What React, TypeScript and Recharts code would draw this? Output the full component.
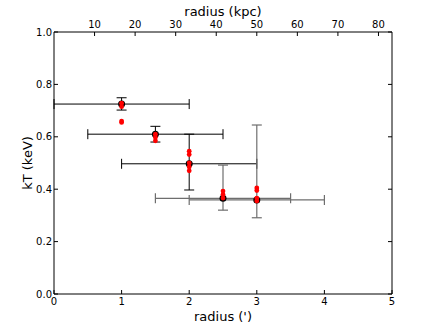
import { ScatterChart, Scatter, XAxis, YAxis, ErrorBar, Label } from 'recharts';

// annular shells: radius (arcmin), kT (keV)
const shellRadius = [1, 1.5, 2, 2.5, 3];
const shellHalfWidth = [1, 1, 1, 1, 1];
const shellKT = [0.725, 0.61, 0.497, 0.365, 0.359];
const shellKTLow = [0.023, 0.03, 0.1, 0.045, 0.068];
const shellKTHigh = [0.024, 0.03, 0.113, 0.127, 0.286];

// individual fits (red)
const fitRadius = [1, 1, 1, 1, 1.5, 1.5, 1.5, 2, 2, 2, 2, 2, 2.5, 2.5, 2.5, 3, 3, 3, 3];
const fitKT = [
  0.728, 0.715, 0.66, 0.655, 0.61, 0.598, 0.585, 0.545, 0.532, 0.5, 0.485, 0.47, 0.393,
  0.38, 0.366, 0.405, 0.395, 0.366, 0.355,
];

const arcminTicks = [0, 1, 2, 3, 4, 5];
const kpcTicks = [10, 20, 30, 40, 50, 60, 70, 80];
const ktTicks = [0, 0.2, 0.4, 0.6, 0.8, 1.0];
const kpcPerArcmin = 16.667;
const kpcMax = 5 * kpcPerArcmin;

const shells = shellRadius.map((r, i) => ({
  x: r,
  y: shellKT[i],
  xErr: shellHalfWidth[i],
  yErr: [shellKTLow[i], shellKTHigh[i]],
}));
const innerShells = shells.slice(0, 3);
const outerShells = shells.slice(3);
const fits = fitRadius.map((r, i) => ({ x: r, y: fitKT[i] }));
// same shells in kpc, only to drive the top axis
const shellsKpc = shellRadius.map((r, i) => ({ x: r * kpcPerArcmin, y: shellKT[i] }));

const tickStyle = { fill: '#000', fontSize: 10 };
const black = { stroke: '#000' };

const blackDot = (p: any) => <circle cx={p.cx} cy={p.cy} r={3.5} fill="#000" />;
const redDot = (p: any) => <circle cx={p.cx} cy={p.cy} r={2.4} fill="#ff0000" />;
const noDot = () => <g />;

export default function App() {
  return (
    <div
      style={{
        position: 'absolute',
        left: 0,
        top: 0,
        background: '#fff',
        fontFamily: '"DejaVu Sans", sans-serif',
      }}
    >
      <ScatterChart width={436} height={327} margin={{ top: 0, right: 0, bottom: 0, left: 0 }}>
        <XAxis
          xAxisId="bottom"
          type="number"
          dataKey="x"
          domain={[0, 5]}
          ticks={arcminTicks}
          allowDataOverflow
          height={33}
          tickSize={-4}
          tickMargin={8}
          tick={tickStyle}
          axisLine={black}
          tickLine={black}
        >
          <Label value="radius (')" position="insideBottom" offset={6} fontSize={13} fill="#000" />
        </XAxis>
        <XAxis
          xAxisId="top"
          orientation="top"
          type="number"
          dataKey="x"
          domain={[0, kpcMax]}
          ticks={kpcTicks}
          allowDataOverflow
          height={32}
          tickSize={-4}
          tickMargin={8}
          tick={tickStyle}
          axisLine={black}
          tickLine={black}
        >
          <Label value="radius (kpc)" position="insideTop" offset={7} fontSize={13} fill="#000" />
        </XAxis>
        <YAxis
          yAxisId="left"
          type="number"
          dataKey="y"
          domain={[0, 1]}
          ticks={ktTicks}
          allowDataOverflow
          width={54}
          tickSize={-4}
          tickMargin={6}
          tick={tickStyle}
          tickFormatter={(v: number) => v.toFixed(1)}
          axisLine={black}
          tickLine={black}
        >
          <Label value="kT (keV)" angle={-90} position="center" fontSize={13} fill="#000" />
        </YAxis>
        <YAxis
          yAxisId="right"
          orientation="right"
          type="number"
          dataKey="y"
          domain={[0, 1]}
          ticks={ktTicks}
          allowDataOverflow
          width={44}
          tickSize={-4}
          tickFormatter={() => ''}
          axisLine={black}
          tickLine={black}
        />
        <Scatter
          data={shellsKpc}
          xAxisId="top"
          yAxisId="right"
          shape={noDot}
          isAnimationActive={false}
        />
        <Scatter
          data={innerShells}
          xAxisId="bottom"
          yAxisId="left"
          shape={blackDot}
          isAnimationActive={false}
        >
          <ErrorBar dataKey="xErr" direction="x" width={5} stroke="#000" strokeWidth={1} />
          <ErrorBar dataKey="yErr" direction="y" width={5} stroke="#000" strokeWidth={1} />
        </Scatter>
        <Scatter
          data={outerShells}
          xAxisId="bottom"
          yAxisId="left"
          shape={blackDot}
          isAnimationActive={false}
        >
          <ErrorBar dataKey="xErr" direction="x" width={5} stroke="#6e6e6e" strokeWidth={1.2} />
          <ErrorBar dataKey="yErr" direction="y" width={5} stroke="#6e6e6e" strokeWidth={1.2} />
        </Scatter>
        <Scatter
          data={fits}
          xAxisId="bottom"
          yAxisId="left"
          shape={redDot}
          isAnimationActive={false}
        />
      </ScatterChart>
    </div>
  );
}
